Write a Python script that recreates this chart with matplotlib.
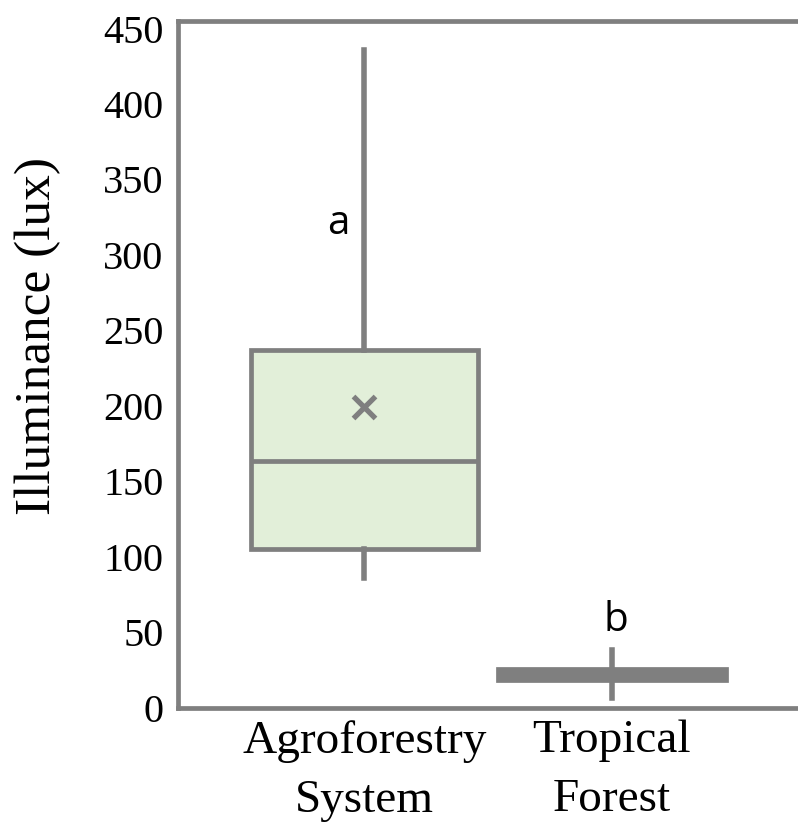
"""
Illuminance box plot: agroforestry system vs tropical forest.
"""
import matplotlib
matplotlib.use("Agg")
import matplotlib.pyplot as plt

# Data (lux)
categories = ["Agroforestry\nSystem", "Tropical\nForest"]
whislo = [85.8, 6.3]
q1 = [105.0, 18.2]
med = [163.4, 21.0]
q3 = [237.0, 25.5]
whishi = [435.8, 38.1]
means = [199.0, 21.5]
show_mean = [True, False]
letters = ["a", "b"]
yticks = [0, 50, 100, 150, 200, 250, 300, 350, 400, 450]

GRAY = "#7f7f7f"
GREEN = "#e2efd9"
LW = 3.4

fig = plt.figure(figsize=(7.98, 8.24), dpi=100)
ax = fig.add_axes([177.5 / 798, 116.5 / 824, 620.5 / 798, 686.5 / 824])

stats = []
for i, name in enumerate(categories):
    stats.append({
        "label": name,
        "whislo": whislo[i],
        "q1": q1[i],
        "med": med[i],
        "q3": q3[i],
        "whishi": whishi[i],
        "mean": means[i],
        "fliers": [],
    })

positions = [1, 2]
bp = ax.bxp(stats, positions=positions, widths=0.92, patch_artist=True,
            showcaps=False, showfliers=False, showmeans=False,
            boxprops=dict(edgecolor=GRAY, linewidth=LW),
            whiskerprops=dict(color=GRAY, linewidth=LW + 0.6),
            medianprops=dict(color=GRAY, linewidth=LW))

# second box is so thin it reads as a solid grey bar
for patch, fc in zip(bp["boxes"], [GREEN, GRAY]):
    patch.set_facecolor(fc)

# mean marker only on the first group
for i, pos in enumerate(positions):
    if show_mean[i]:
        ax.plot(pos, means[i], marker="x", color=GRAY, markersize=16,
                markeredgewidth=3.8, zorder=5)

# significance letters
letter_pos = [(0.893, 320.4), (2.016, 57.3)]
for lt, (lx, ly) in zip(letters, letter_pos):
    ax.text(lx, ly, lt, ha="center", va="center", fontsize=29,
            family=["Open Sans", "DejaVu Sans"], color="black")

ax.set_xlim(0.2444, 2.752)
ax.set_ylim(0, 455)
ax.set_xticks(positions)
ax.set_xticklabels(categories, family="Liberation Serif", fontsize=34,
                   linespacing=1.5)
ax.set_yticks(yticks)
ax.set_yticklabels([str(t) for t in yticks], family="Liberation Serif",
                   fontsize=29)
ax.tick_params(axis="both", length=0)
ax.tick_params(axis="y", pad=10)
ax.tick_params(axis="x", pad=9)

ax.set_ylabel("Illuminance (lux)", family="Liberation Serif", fontsize=37,
              va="center")
ax.yaxis.set_label_coords(-0.225, 0.541)

for side in ["left", "top", "bottom"]:
    ax.spines[side].set_color(GRAY)
    ax.spines[side].set_linewidth(LW)
ax.spines["right"].set_visible(False)

fig.savefig("out.png", dpi=100)
